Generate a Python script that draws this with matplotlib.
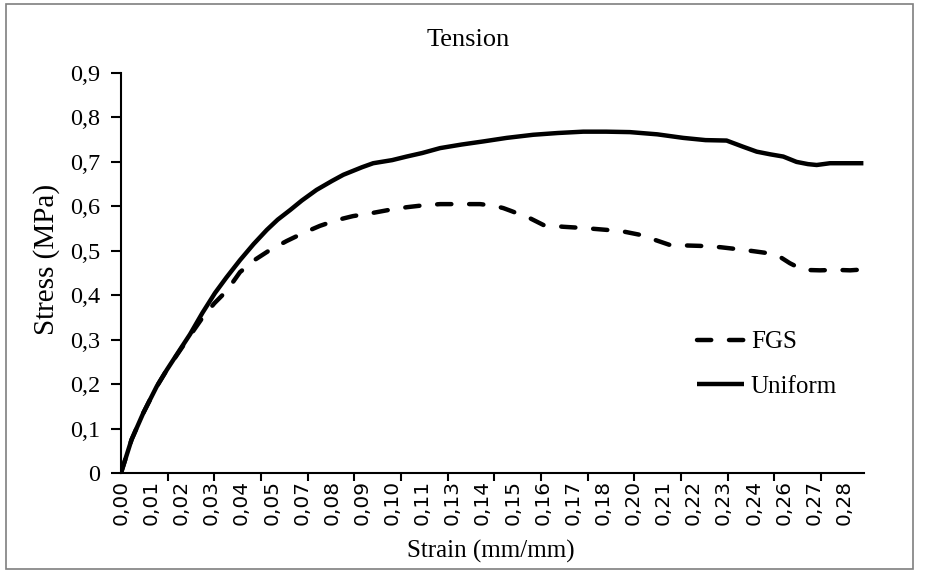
import numpy as np
import matplotlib
matplotlib.use("Agg")
import matplotlib.pyplot as plt
from matplotlib.patches import Rectangle

# Excel-style category axis: curves are placed by category position,
# label k of strain_labels sits at position k
strain_labels = ["0,00", "0,01", "0,02", "0,03", "0,04", "0,05", "0,07", "0,08",
                 "0,09", "0,10", "0,11", "0,13", "0,14", "0,15", "0,16", "0,17",
                 "0,18", "0,20", "0,21", "0,22", "0,23", "0,24", "0,26", "0,27",
                 "0,28"]

uniform_pos = [0, 0.35, 0.74, 1.18, 1.52, 2.0, 2.29, 2.7, 3.12, 3.5, 3.95, 4.4,
               4.84, 5.2, 5.62, 6.0, 6.49, 7.0, 7.38, 8.0, 8.37, 9.0, 9.48, 10.0,
               10.59, 11.3, 12.02, 12.8, 13.68, 14.5, 15.34, 16.1, 16.89, 17.8,
               18.66, 19.4, 20.1, 20.65, 21.1, 21.55, 21.98, 22.42, 22.8, 23.09,
               23.53, 24.0, 24.64]
uniform_stress = [0, 0.075, 0.135, 0.194, 0.232, 0.282, 0.312, 0.36, 0.405, 0.44,
                  0.479, 0.515, 0.547, 0.57, 0.592, 0.613, 0.637, 0.657, 0.671,
                  0.688, 0.697, 0.704, 0.712, 0.72, 0.731, 0.739, 0.746, 0.754,
                  0.761, 0.765, 0.768, 0.768, 0.767, 0.762, 0.754, 0.749, 0.748,
                  0.734, 0.723, 0.717, 0.712, 0.700, 0.695, 0.693, 0.697, 0.697,
                  0.697]

fgs_pos = [0, 0.35, 0.74, 1.18, 1.52, 2.0, 2.3, 2.73, 3.1, 3.51, 3.95, 4.45, 4.95,
           5.5, 6.05, 6.6, 7.16, 7.7, 8.26, 8.9, 9.48, 10.0, 10.59, 11.36, 11.92,
           12.4, 12.69, 12.97, 13.58, 14.02, 14.68, 15.4, 16.12, 16.7, 17.22,
           17.7, 18.22, 19.22, 19.9, 20.54, 21.0, 21.54, 21.9, 22.2, 22.64, 23.2,
           23.75, 24.2, 24.64]
fgs_stress = [0, 0.075, 0.135, 0.194, 0.232, 0.28, 0.31, 0.352, 0.382, 0.41,
              0.452, 0.48, 0.502, 0.522, 0.54, 0.556, 0.569, 0.578, 0.584, 0.592,
              0.598, 0.602, 0.605, 0.605, 0.605, 0.601, 0.596, 0.589, 0.573,
              0.558, 0.554, 0.551, 0.547, 0.543, 0.536, 0.525, 0.513, 0.511,
              0.508, 0.503, 0.499, 0.494, 0.485, 0.472, 0.457, 0.456, 0.457,
              0.456, 0.458]

plt.rcParams['font.family'] = ['Liberation Serif', 'DejaVu Serif']

fig = plt.figure(figsize=(9.28, 5.72), dpi=100)
W, H = 928, 572
ax = fig.add_axes([121 / W, 1 - 473 / H, (864 - 121) / W, (473 - 73) / H])

ax.plot(fgs_pos, fgs_stress, color='black', lw=3.2, dashes=(3.2, 4.0),
        dash_capstyle='round', label='FGS')
ax.plot(uniform_pos, uniform_stress, color='black', lw=3.2,
        solid_capstyle='butt', label='Uniform')

ax.set_xlim(0, 24.66)
ax.set_ylim(0, 0.9)

ax.set_yticks(np.arange(0, 0.91, 0.1))
ax.set_yticklabels(["0"] + ["0,%d" % i for i in range(1, 10)])
ax.tick_params(axis='y', direction='out', length=7, width=1.5, pad=8,
               labelsize=17.5)

ax.set_xticks(range(len(strain_labels)))
ax.set_xticklabels(strain_labels, rotation=90, family='DejaVu Sans', fontsize=14.5)
ax.tick_params(axis='x', which='major', length=0, pad=5)
ax.set_xticks(np.arange(0, 24.0, 1.549), minor=True)
ax.tick_params(axis='x', which='minor', direction='out', length=6, width=1.5)

for side in ['top', 'right']:
    ax.spines[side].set_visible(False)
for side in ['left', 'bottom']:
    ax.spines[side].set_linewidth(1.5)

leg = ax.legend(loc='upper left', bbox_to_anchor=((697 - 121) / 743, (473 - 331) / 400),
                frameon=False, fontsize=18, handlelength=1.9, handletextpad=0.25,
                labelspacing=0.88, borderpad=0, borderaxespad=0)

fig.text(468 / W, 1 - 40 / H, 'Tension', ha='center', va='center', fontsize=19)
fig.text(491 / W, 1 - 551 / H, 'Strain (mm/mm)', ha='center', va='center', fontsize=18)
fig.text(47 / W, 1 - 259 / H, 'Stress (MPa)', ha='center', va='center',
         rotation=90, fontsize=21)

fig.patches.append(Rectangle((6 / W, 3 / H), (913 - 6) / W, (568 - 3) / H,
                             transform=fig.transFigure, fill=False,
                             edgecolor='#7f7f7f', lw=1.2))

fig.savefig('out.png', dpi=100)
